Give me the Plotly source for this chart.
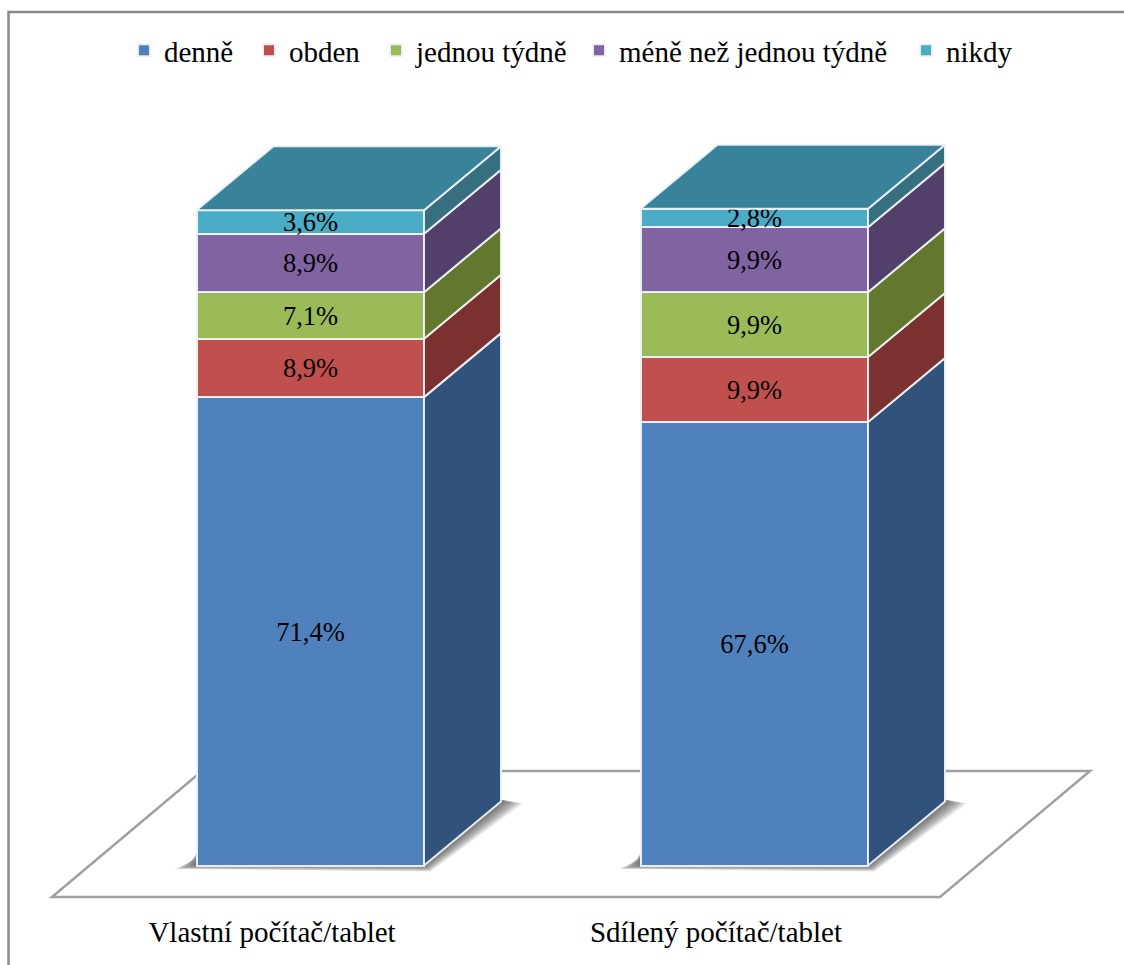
import plotly.graph_objects as go

categories = ["Vlastní počítač/tablet", "Sdílený počítač/tablet"]
series_names = ["denně", "obden", "jednou týdně", "méně než jednou týdně", "nikdy"]
denne = [71.4, 67.6]
obden = [8.9, 9.9]
jednou = [7.1, 9.9]
mene = [8.9, 9.9]
nikdy = [3.6, 2.8]
labels_a = ["71,4%", "67,6%"]
labels_b = ["8,9%", "9,9%"]
labels_c = ["7,1%", "9,9%"]
labels_d = ["8,9%", "9,9%"]
labels_e = ["3,6%", "2,8%"]
front_colors = ["#4F81BD", "#C0504D", "#9BBB59", "#8064A2", "#4BACC6"]
side_colors = ["#31527A", "#7A3130", "#64772F", "#52406A", "#356F80"]
top_color = "#38839A"
legend_left_px = [145, 270, 397, 600, 927]

values = [denne, obden, jednou, mene, nikdy]
texts = [labels_a, labels_b, labels_c, labels_d, labels_e]

W, H = 1124, 965
M_B = 60
PX_X = 444.0       # px per category
PX_Y = 6.56        # px per percent
X0 = 272.0         # pixel of category 0
Y0 = 865.5         # pixel of value 0
BAR_OFF = (196.5 - X0) / PX_X
BAR_W = 227.5 / PX_X
DX = 77 / PX_X
DY = 64 / PX_Y
EDGE = "rgba(238,242,246,0.95)"
FONT = "Liberation Serif"
INDENT = -7

fig = go.Figure()
xs = list(range(len(categories)))
legend_ids = ["legend", "legend2", "legend3", "legend4", "legend5"]

for name, vals, txt, col, lid in zip(series_names, values, texts, front_colors, legend_ids):
    fig.add_trace(go.Bar(
        x=xs, y=vals, name=name, text=txt, width=BAR_W, offset=BAR_OFF, legend=lid,
        marker=dict(color=col, line=dict(color=EDGE, width=2)),
        textposition="inside", insidetextanchor="middle", textangle=0,
        constraintext="none", textfont=dict(family=FONT, size=26.5, color="black"),
        hoverinfo="skip",
    ))

shapes = []
# frame
shapes.append(dict(type="rect", xref="paper", yref="paper",
                   x0=8.5 / W, x1=1.02, y0=-0.2, y1=(H - M_B - 12) / (H - M_B),
                   line=dict(color="#8A8A8A", width=2.5), layer="below"))

# floor derived from the axis positions
fl_l, fl_r = -220 / PX_X, 668 / PX_X
fl_dx, fl_dy = 150 / PX_X, 126 / PX_Y
fl_y = -31.5 / PX_Y
shapes.append(dict(type="path", layer="below", xref="x", yref="y",
                   path=f"M{fl_l},{fl_y} L{fl_r},{fl_y} L{fl_r + fl_dx},{fl_y + fl_dy} "
                        f"L{fl_l + fl_dx},{fl_y + fl_dy} Z",
                   line=dict(color="#A0A0A0", width=2.5), fillcolor="white"))

# soft shadows under each column
STEPS = 10
for i in xs:
    xl = i + BAR_OFF
    xr = xl + BAR_W
    for k in range(STEPS):
        s = 1 - k / STEPS
        sx = s * 22 / PX_X
        sy = s * 6 / PX_Y
        shapes.append(dict(type="path", layer="below", xref="x", yref="y",
                           path=f"M{xl - sx},{-sy * 0.6} L{xl},{(16 - 10 * s) / PX_Y} L{xl},{2 / PX_Y} "
                                f"L{xr + DX},{DY + 2 / PX_Y} L{xr + DX + sx},{DY - s * 2 / PX_Y} "
                                f"L{xr + sx * 0.3},{-sy} Z",
                           line=dict(width=0), fillcolor="rgba(60,60,60,0.1)"))

# side and top faces, computed from the stacked values
for i in xs:
    xr = i + BAR_OFF + BAR_W
    xl = i + BAR_OFF
    base = 0.0
    for vals, col in zip(values, side_colors):
        top = base + vals[i]
        fig.add_trace(go.Scatter(
            x=[xr, xr + DX, xr + DX, xr, xr], y=[base, base + DY, top + DY, top, base],
            mode="lines", fill="toself", fillcolor=col, line=dict(color=EDGE, width=2),
            showlegend=False, hoverinfo="skip"))
        base = top
    fig.add_trace(go.Scatter(
        x=[xl, xr, xr + DX, xl + DX, xl], y=[base, base, base + DY, base + DY, base],
        mode="lines", fill="toself", fillcolor=top_color, line=dict(color=EDGE, width=2),
        showlegend=False, hoverinfo="skip"))

legend_kw = {}
for lid, left in zip(legend_ids, legend_left_px):
    legend_kw[lid] = dict(
        orientation="h", x=(left - 14) / W, y=(H - M_B - 25) / (H - M_B),
        xanchor="left", yanchor="top", indentation=INDENT,
        font=dict(family=FONT, size=29), bgcolor="rgba(0,0,0,0)")

fig.update_layout(
    width=W, height=H, barmode="stack", bargap=0,
    margin=dict(l=0, r=0, t=0, b=M_B, autoexpand=False),
    paper_bgcolor="white", plot_bgcolor="rgba(0,0,0,0)",
    font=dict(family=FONT, color="black"),
    shapes=shapes,
    showlegend=True,
    xaxis=dict(range=[-X0 / PX_X, (W - X0) / PX_X], tickmode="array", tickvals=xs, ticktext=categories,
               showgrid=False, zeroline=False, showline=False, ticks="", ticklen=0, ticklabelstandoff=7,
               tickfont=dict(family=FONT, size=29, color="black")),
    yaxis=dict(range=[-(H - M_B - Y0) / PX_Y, Y0 / PX_Y], visible=False, showgrid=False, zeroline=False),
    **legend_kw,
)

fig.write_html("out.html", config={"displayModeBar": False},
               post_script="document.body.style.margin='0';")
